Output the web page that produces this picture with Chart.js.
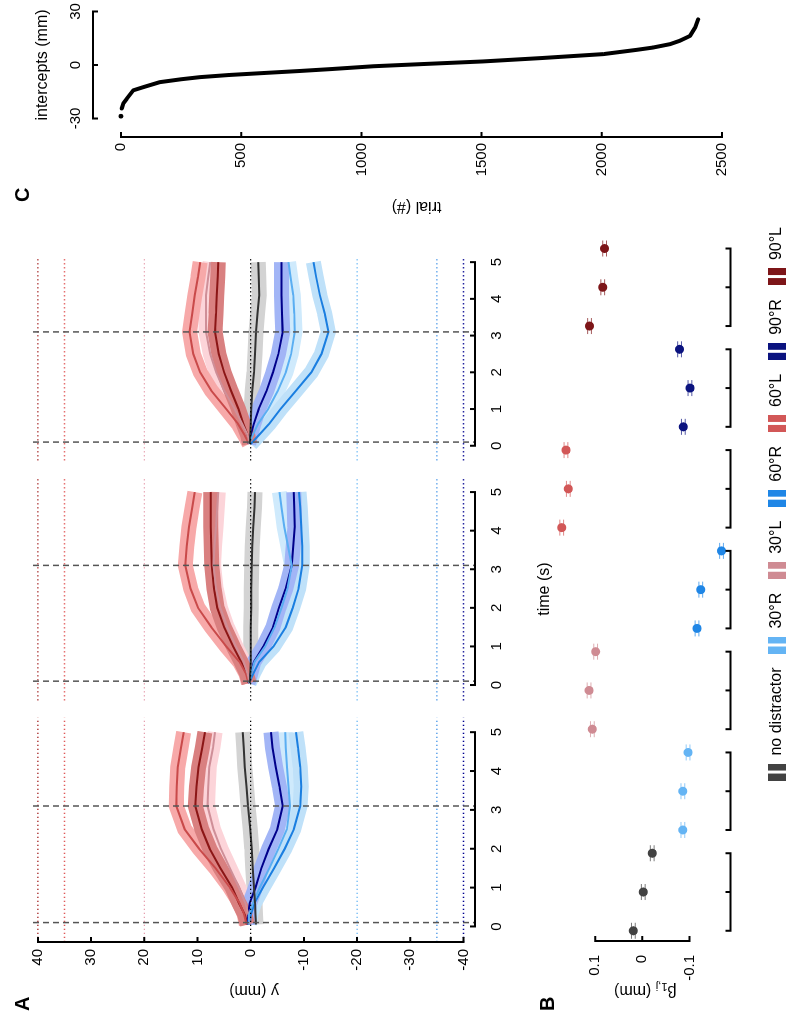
<!DOCTYPE html>
<html>
<head>
<meta charset="utf-8">
<script src="https://cdn.jsdelivr.net/npm/chart.js@4.4.0/dist/chart.umd.min.js"></script>
<style>
  html, body { margin: 0; padding: 0; background: #fff; overflow: hidden; }
  body { width: 787px; height: 1021px; position: relative; }
  /* figure is laid out upright, then turned a quarter turn to match the page */
  #fig { position: absolute; left: 0; top: 0; width: 1021px; height: 787px;
         transform-origin: 0 0; transform: translate(0, 1021px) rotate(-90deg);
         font-family: "Liberation Sans", Arial, sans-serif; }
  #fig canvas { position: absolute; }
  .lbl { position: absolute; font-weight: bold; font-size: 20px; line-height: 20px; }
</style>
</head>
<body>
<div id="fig">
  <canvas id="a1" width="306" height="560" style="left:0;top:0"></canvas>
  <canvas id="a2" width="227" height="560" style="left:319px;top:0"></canvas>
  <canvas id="a3" width="217" height="560" style="left:559px;top:0"></canvas>
  <canvas id="b" width="808" height="275" style="left:0;top:520px"></canvas>
  <canvas id="c" width="232" height="787" style="left:800px;top:0"></canvas>
  <div class="lbl" style="left:10px;top:12px">A</div>
  <div class="lbl" style="left:10px;top:537px">B</div>
  <div class="lbl" style="left:819px;top:12px">C</div>
</div>
<script>
// ---- data: panel A (mean trajectories, y in mm) ----
const timeA = [0.05, 0.3, 0.6, 1.0, 1.5, 2.0, 2.5, 3.1, 3.6, 4.1, 4.6, 5.0];
const timeTicks = [0, 1, 2, 3, 4, 5];
const yTicksA = [40, 30, 20, 10, 0, -10, -20, -30, -40];
const targetLevels = [40, 35, 20, 0, -20, -35, -40];
const cueTimes = [0.1, 3.1];

const b1_nd  = [-1.0, -0.9, -0.8, -0.6, -0.4, -0.2, 0.1, 0.5, 0.8, 1.1, 1.3, 1.5];
const b1_r30 = [0.4, 0.3, -0.4, -1.7, -3.5, -5.2, -6.8, -7.4, -7.1, -6.8, -6.6, -6.5];
const b1_l30 = [0.1, 0.4, 1.0, 2.2, 3.9, 5.6, 7.0, 8.1, 8.0, 7.8, 7.1, 6.7];
const b1_r60 = [0.2, 0.0, -0.7, -2.3, -4.4, -6.4, -8.1, -9.3, -9.5, -9.3, -8.9, -8.5];
const b1_l60 = [0.8, 1.2, 2.1, 3.9, 6.6, 9.7, 12.4, 14.0, 13.9, 13.7, 13.1, 12.6];
const b1_r90 = [0.6, 0.5, 0.2, -0.9, -2.0, -3.4, -5.0, -6.0, -5.4, -4.7, -4.1, -3.8];
const b1_l90 = [0.6, 1.1, 2.2, 3.5, 5.7, 7.7, 9.2, 10.4, 10.2, 9.8, 9.1, 8.6];

const b2_nd  = [0.2, 0.1, 0.0, 0.0, 0.0, -0.1, -0.1, -0.2, -0.3, -0.5, -0.7, -0.8];
const b2_r30 = [0.3, -0.1, -0.7, -2.7, -4.5, -5.8, -6.9, -7.7, -7.0, -6.3, -5.8, -5.4];
const b2_l30 = [0.2, 0.6, 1.3, 2.8, 4.4, 5.7, 6.5, 7.0, 6.8, 6.5, 6.3, 6.1];
const b2_r60 = [0.3, -0.5, -1.6, -4.3, -6.6, -7.9, -9.0, -9.7, -9.7, -9.5, -9.3, -9.1];
const b2_l60 = [0.4, 0.9, 2.1, 4.6, 7.4, 9.9, 11.3, 12.3, 12.0, 11.6, 11.0, 10.5];
const b2_r90 = [0.5, 0.0, -0.6, -2.4, -4.2, -5.3, -6.6, -7.7, -8.0, -8.3, -8.2, -8.1];
const b2_l90 = [0.3, 0.8, 1.8, 3.3, 5.0, 6.3, 6.9, 7.3, 7.4, 7.5, 7.5, 7.5];

const b3_nd  = [0.2, 0.1, 0.0, -0.1, -0.3, -0.6, -0.8, -1.0, -1.3, -1.6, -1.5, -1.4];
const b3_r30 = [0.3, -0.4, -1.4, -3.3, -5.1, -6.6, -7.6, -8.3, -8.2, -8.0, -7.5, -7.1];
const b3_l30 = [0.2, 0.6, 1.6, 3.0, 5.0, 6.5, 7.6, 8.4, 8.4, 8.4, 8.0, 7.6];
const b3_r60 = [0.0, -1.6, -3.5, -5.6, -8.5, -11.4, -13.3, -14.6, -13.9, -13.0, -12.3, -11.8];
const b3_l60 = [0.3, 1.2, 2.4, 4.6, 7.4, 9.5, 10.8, 11.5, 11.0, 10.5, 9.9, 9.5];
const b3_r90 = [0.4, 0.0, -0.6, -1.5, -3.0, -4.2, -5.2, -6.0, -5.9, -5.8, -5.8, -5.8];
const b3_l90 = [0.2, 0.6, 1.4, 2.3, 3.7, 5.0, 6.0, 6.7, 6.5, 6.4, 6.2, 6.1];

// ---- data: panel B (beta_1,j per block) ----
const conditions = ['no distractor', '30°R', '30°L', '60°R', '60°L', '90°R', '90°L'];
const betaNoDist = [0.019, -0.002, -0.021];
const betaR30 = [-0.086, -0.086, -0.097];
const betaL30 = [0.106, 0.113, 0.099];
const betaR60 = [-0.116, -0.124, -0.168];
const betaL60 = [0.171, 0.157, 0.162];
const betaR90 = [-0.087, -0.101, -0.079];
const betaL90 = [0.112, 0.084, 0.080];
const betaSE = [0.004, 0.004, 0.004, 0.004, 0.004, 0.004, 0.004];
const betaTicks = [0.1, 0, -0.1];

// ---- data: panel C (sorted intercepts) ----
const trialIdx = [0, 3, 10, 24, 51, 93, 162, 250, 329, 450, 606, 750, 883, 1050, 1250, 1506, 1750, 2006, 2145, 2214, 2284, 2325, 2367, 2388, 2401];
const interceptMm = [-28.7, -24.4, -21.5, -18.9, -14.2, -12.4, -9.6, -8.0, -6.8, -5.6, -4.4, -3.3, -2.2, -0.7, 0.5, 2.0, 3.9, 6.1, 8.5, 9.8, 11.7, 13.6, 16.3, 20.9, 25.6];
const trialTicks = [0, 500, 1000, 1500, 2000, 2500];
const interceptTicks = [-30, 0, 30];

// ---- styles ----
const lineColors = ['#333333', '#5aaef2', '#cf8f98', '#1a7ee0', '#c94a4a', '#00008b', '#8b1616'];
const bandColors = ['#d3d3d3', '#cfeafc', '#fcd4d9', '#bfe1f9', '#f7a9a9', '#a2b5f6', '#d98080'];
const condColors = ['#424242', '#64b4f4', '#cf8b93', '#1f86e6', '#d25757', '#0b137f', '#7d1518'];
const targetColors = ['#a01818', '#e05a5a', '#e6a0b0', '#000000', '#64b4f4', '#3a8ee6', '#000090'];
const groupStep = 2.6;

const blocks = [
  [b1_nd, b1_r30, b1_l30, b1_r60, b1_l60, b1_r90, b1_l90],
  [b2_nd, b2_r30, b2_l30, b2_r60, b2_l60, b2_r90, b2_l90],
  [b3_nd, b3_r30, b3_l30, b3_r60, b3_l60, b3_r90, b3_l90]
];
const betaSeries = [betaNoDist, betaR30, betaL30, betaR60, betaL60, betaR90, betaL90];

Chart.defaults.font.family = "'Liberation Sans', Arial, Helvetica, sans-serif";
Chart.defaults.font.size = 15;
Chart.defaults.color = '#000';
Chart.defaults.animation = false;
Chart.defaults.events = [];
Chart.defaults.plugins.legend.display = false;
Chart.defaults.plugins.tooltip.enabled = false;

const fixTicks = vals => s => { s.ticks = vals.map(v => ({ value: v })); };
const plainLabel = v => String(v);
const noGrid = { display: false, drawTicks: false };

// matlab-like axis: line from first to last tick, ticks pointing inward
function drawHAxis(chart, id, vals, y, dir) {
  const s = chart.scales[id], ctx = chart.ctx;
  const xs = vals.map(v => s.getPixelForValue(v));
  ctx.save();
  ctx.strokeStyle = '#000'; ctx.lineWidth = 2;
  ctx.beginPath();
  ctx.moveTo(Math.min(...xs) - 1, y); ctx.lineTo(Math.max(...xs) + 1, y);
  xs.forEach(x => { ctx.moveTo(x, y); ctx.lineTo(x, y + dir * 5); });
  ctx.stroke();
  ctx.restore();
}
function drawVAxis(chart, id, vals, x, dir) {
  const s = chart.scales[id], ctx = chart.ctx;
  const ys = vals.map(v => s.getPixelForValue(v));
  ctx.save();
  ctx.strokeStyle = '#000'; ctx.lineWidth = 2;
  ctx.beginPath();
  ctx.moveTo(x, Math.min(...ys) - 1); ctx.lineTo(x, Math.max(...ys) + 1);
  ys.forEach(y => { ctx.moveTo(x, y); ctx.lineTo(x + dir * 5, y); });
  ctx.stroke();
  ctx.restore();
}

const panelAPlugin = {
  id: 'panelA',
  afterDatasetsDraw(chart) {
    const { ctx, chartArea: a, scales: { x, y } } = chart;
    ctx.save();
    ctx.lineWidth = 1.3;
    ctx.setLineDash([1.3, 2.7]);
    targetLevels.forEach((lv, i) => {
      const py = y.getPixelForValue(lv);
      ctx.strokeStyle = targetColors[i];
      ctx.beginPath(); ctx.moveTo(a.left, py); ctx.lineTo(a.right, py); ctx.stroke();
    });
    ctx.setLineDash([6, 4]);
    ctx.strokeStyle = '#555';
    ctx.lineWidth = 1.5;
    cueTimes.forEach(t => {
      const px = x.getPixelForValue(t);
      ctx.beginPath(); ctx.moveTo(px, a.top); ctx.lineTo(px, a.bottom); ctx.stroke();
    });
    ctx.restore();
  },
  afterDraw(chart) {
    drawHAxis(chart, 'x', timeTicks, chart.chartArea.bottom, -1);
    if (chart.options.scales.y.display) drawVAxis(chart, 'y', yTicksA, chart.chartArea.left, 1);
  }
};

function makePanelA(id, k, tMax) {
  const series = blocks[k];
  const ds = [];
  // shaded bands: 90° on top, no-distractor at the bottom
  series.forEach((vals, i) => ds.push({
    data: timeA.map((t, j) => ({ x: t, y: vals[j] })),
    borderColor: bandColors[i], borderWidth: 15, borderCapStyle: 'butt',
    pointRadius: 0, tension: 0, order: 20 - i
  }));
  series.forEach((vals, i) => ds.push({
    data: timeA.map((t, j) => ({ x: t, y: vals[j] })),
    borderColor: lineColors[i], borderWidth: 2,
    pointRadius: 0, tension: 0, order: 1
  }));
  return new Chart(document.getElementById(id), {
    type: 'line',
    data: { datasets: ds },
    options: {
      responsive: false,
      layout: { padding: { top: 33 } },
      scales: {
        x: {
          type: 'linear', min: -0.4, max: tMax,
          afterBuildTicks: fixTicks(timeTicks),
          afterFit: s => { s.height = 85; },
          grid: noGrid, border: { display: false },
          ticks: { padding: 13 },
          title: { display: k === 1, text: 'time (s)', font: { size: 16 }, padding: { top: 0, bottom: 5.4 } }
        },
        y: {
          type: 'linear', min: -42.16, max: 40.92, display: k === 0,
          afterBuildTicks: fixTicks(yTicksA),
          afterFit: s => { s.width = k === 0 ? 79 : 0; },
          grid: noGrid, border: { display: false },
          ticks: { padding: 7 },
          title: { display: true, text: 'y (mm)', font: { size: 16 }, padding: { top: 21.4, bottom: 0 } }
        }
      }
    },
    plugins: [panelAPlugin]
  });
}

makePanelA('a1', 0, 5.37);
makePanelA('a2', 1, 5.37);
makePanelA('a3', 2, 5.12);

// ---- panel B ----
const swatches = condColors.map(col => {
  const cv = document.createElement('canvas');
  cv.width = 17; cv.height = 18;
  const g = cv.getContext('2d');
  g.fillStyle = col;
  g.fillRect(0, 0, 7, 18);
  g.fillRect(10, 0, 7, 18);
  return cv;
});

const panelBPlugin = {
  id: 'panelB',
  beforeDatasetsDraw(chart) {
    const { ctx, scales: { x, y } } = chart;
    ctx.save();
    ctx.lineWidth = 1;
    ctx.globalAlpha = 0.7;
    betaSeries.forEach((vals, g) => {
      ctx.strokeStyle = condColors[g];
      vals.forEach((b, i) => {
        const px = x.getPixelForValue(g * groupStep + i);
        const y1 = y.getPixelForValue(b + betaSE[g]);
        const y2 = y.getPixelForValue(b - betaSE[g]);
        ctx.beginPath();
        ctx.moveTo(px, y1); ctx.lineTo(px, y2);
        ctx.moveTo(px - 8, y1); ctx.lineTo(px + 8, y1);
        ctx.moveTo(px - 8, y2); ctx.lineTo(px + 8, y2);
        ctx.stroke();
      });
    });
    ctx.restore();
  },
  afterDraw(chart) {
    const { ctx, chartArea: a, scales: { x, y } } = chart;
    // group brackets
    const yb = y.getPixelForValue(-0.187);
    ctx.save();
    ctx.strokeStyle = '#000'; ctx.lineWidth = 2;
    betaSeries.forEach((vals, g) => {
      const xs = vals.map((b, i) => x.getPixelForValue(g * groupStep + i));
      ctx.beginPath();
      ctx.moveTo(xs[0] - 1, yb); ctx.lineTo(xs[xs.length - 1] + 1, yb);
      xs.forEach(px => { ctx.moveTo(px, yb); ctx.lineTo(px, yb - 5); });
      ctx.stroke();
    });
    ctx.restore();
    drawVAxis(chart, 'y', betaTicks, a.left, 1);
    // axis title with subscript
    ctx.save();
    ctx.translate(31, y.getPixelForValue(0) + 3);
    ctx.rotate(-Math.PI / 2);
    ctx.fillStyle = '#000';
    ctx.textBaseline = 'middle';
    const big = "16px 'Liberation Sans', Arial, sans-serif";
    const small = "11px 'Liberation Sans', Arial, sans-serif";
    ctx.font = big; const w1 = ctx.measureText('β').width; const w3 = ctx.measureText(' (mm)').width;
    ctx.font = small; const w2 = ctx.measureText('1,j').width;
    let cx = -(w1 + w2 + w3) / 2;
    ctx.font = big; ctx.fillText('β', cx, 0); cx += w1;
    ctx.font = small; ctx.fillText('1,j', cx, 4); cx += w2;
    ctx.font = big; ctx.fillText(' (mm)', cx, 0);
    ctx.restore();
  }
};

new Chart(document.getElementById('b'), {
  type: 'scatter',
  data: {
    datasets: betaSeries.map((vals, g) => ({
      label: conditions[g],
      data: vals.map((b, i) => ({ x: g * groupStep + i, y: b })),
      backgroundColor: condColors[g], borderColor: condColors[g],
      borderWidth: 0, pointRadius: 4.5
    }))
  },
  options: {
    responsive: false,
    layout: { padding: { top: 20 } },
    plugins: {
      legend: {
        display: true, position: 'bottom', align: 'end',
        labels: {
          usePointStyle: true, pointStyleWidth: 17, padding: 14,
          font: { size: 16 }, color: '#000',
          generateLabels: () => conditions.map((name, i) => ({
            text: name, pointStyle: swatches[i], fillStyle: condColors[i],
            strokeStyle: condColors[i], lineWidth: 0, hidden: false, datasetIndex: i, fontColor: '#000'
          }))
        }
      }
    },
    scales: {
      x: { type: 'linear', display: false, min: -0.264, max: 18.4 },
      y: {
        type: 'linear', min: -0.239, max: 0.2107,
        afterBuildTicks: fixTicks(betaTicks),
        afterFit: s => { s.width = 80; },
        grid: noGrid, border: { display: false },
        ticks: { padding: 14 }
      }
    }
  },
  plugins: [panelBPlugin]
});

// ---- panel C ----
const panelCPlugin = {
  id: 'panelC',
  afterDraw(chart) {
    const a = chart.chartArea;
    drawHAxis(chart, 'x', interceptTicks, a.top, 1);
    drawVAxis(chart, 'y', trialTicks, a.left, 1);
  }
};

new Chart(document.getElementById('c'), {
  type: 'scatter',
  data: {
    datasets: [
      {
        data: trialIdx.slice(1).map((t, i) => ({ x: interceptMm[i + 1], y: t })),
        showLine: true, borderColor: '#000', borderWidth: 4, pointRadius: 0,
        borderCapStyle: 'round', borderJoinStyle: 'round'
      },
      {
        data: [{ x: interceptMm[0], y: trialIdx[0] }],
        backgroundColor: '#000', borderWidth: 0, pointRadius: 2.4
      }
    ]
  },
  options: {
    responsive: false,
    layout: { padding: { bottom: 47 } },
    scales: {
      x: {
        type: 'linear', position: 'top', min: -40.36, max: 40.36,
        afterBuildTicks: fixTicks(interceptTicks),
        afterFit: s => { s.height = 93; },
        grid: noGrid, border: { display: false },
        ticks: { padding: 8, callback: plainLabel },
        title: { display: true, text: 'intercepts (mm)', font: { size: 16 }, padding: { top: 33.4, bottom: 0 } }
      },
      y: {
        type: 'linear', reverse: true, min: -116.5, max: 2575,
        afterBuildTicks: fixTicks(trialTicks),
        afterFit: s => { s.width = 84; },
        grid: noGrid, border: { display: false },
        ticks: { padding: 6, callback: plainLabel },
        title: { display: true, text: 'trial (#)', font: { size: 16 }, padding: { top: 5.4, bottom: 0 } }
      }
    }
  },
  plugins: [panelCPlugin]
});
</script>
</body>
</html>
